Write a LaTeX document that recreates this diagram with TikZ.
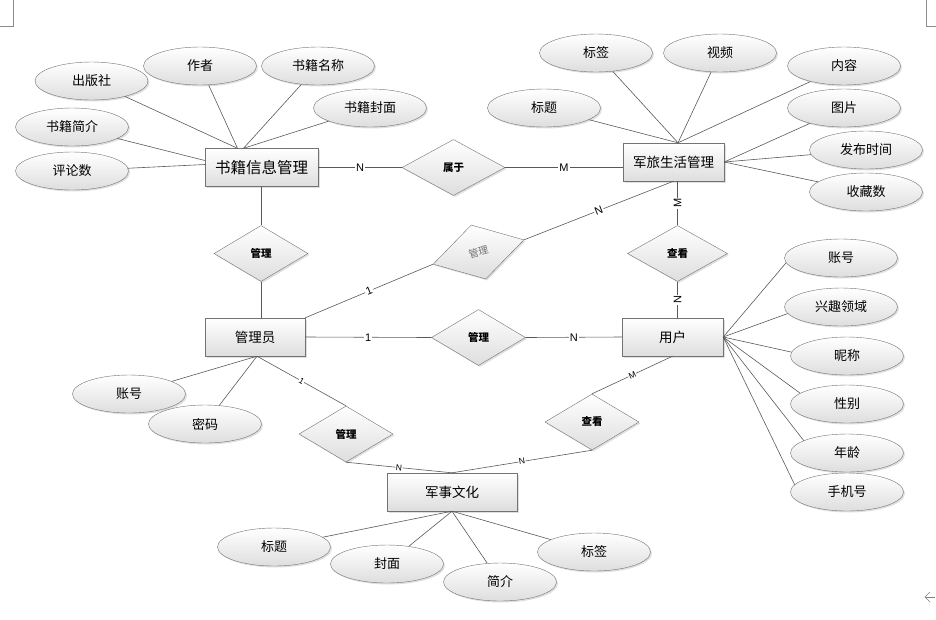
\documentclass[tikz,border=0pt]{standalone}
\usepackage{fontspec}
\setmainfont{Noto Sans CJK SC}
\newfontfamily\latin{Liberation Sans}
\usetikzlibrary{calc,shapes,shadows}

\begin{document}
\begin{tikzpicture}[x=1pt, y=-1pt, lbl/.style={inner sep=1pt, fill=white, font=\latin\fontsize{11}{11}\selectfont}, slbl/.style={lbl, sloped, inner sep=0.5pt, font=\latin\fontsize{8.5}{8.5}\selectfont}]
\useasboundingbox (0,0) rectangle (936,619);
\tikzstyle{base}=[draw=black!55, top color=white, bottom color=black!13, drop shadow={shadow xshift=1.5pt, shadow yshift=-1.5pt, opacity=0.25}]
\tikzstyle{ent}=[base, rectangle, minimum height=38pt, font=\fontsize{13.5}{13.5}\selectfont]
\tikzstyle{attr}=[base, ellipse, minimum width=113pt, minimum height=38pt, font=\fontsize{13}{13}\selectfont]
\tikzstyle{rel}=[base, diamond, minimum width=94pt, minimum height=56pt, inner sep=0pt, font=\bfseries\fontsize{10.5}{10.5}\selectfont]
\tikzstyle{cn}=[draw=black!65, line width=0.6pt]
% entities
\node[ent, minimum width=113pt, font=\fontsize{15.5}{15.5}\selectfont] (book) at (261.5,167.5) {书籍信息管理};
\node[ent, minimum width=101pt] (army) at (673.5,162) {军旅生活管理};
\node[ent, minimum width=100pt] (admin) at (255,337) {管理员};
\node[ent, minimum width=101pt] (user) at (672.5,337) {用户};
\node[ent, minimum width=130pt] (cult) at (452,492) {军事文化};
% relations
\node[rel, minimum width=103pt] (belong) at (453.5,167.5) {属于};
\node[rel] (mgrA) at (261,253.5) {管理};
\node[rel, rotate=15, text=black!55, font=\fontsize{10}{10}\selectfont] (mgrB) at (478.5,252) {管理};
\node[rel, minimum width=100pt] (chk1) at (677.5,253.5) {查看};
\node[rel] (mgrC) at (478.5,337.5) {管理};
\node[rel] (mgrD) at (346,434) {管理};
\node[rel] (chk2) at (592,422) {查看};
% attributes
\foreach \n/\x/\y/\t in {pub/91.5/81/出版社, auth/200/66/作者, bname/318/66/书籍名称, bcover/370/108/书籍封面, bintro/72/127/书籍简介, bcomm/72/171/评论数,
  atag/596/53/标签, avideo/720/53/视频, atitle/544/108/标题, acont/844/66/内容, apic/844/108/图片, atime/866/150/发布时间, afav/866/192/收藏数,
  uacc/841/258/账号, uint/841/307/兴趣领域, unick/847/356/昵称, usex/847/404/性别, uage/847/453/年龄, uphone/847/492/手机号,
  macc/129/394/账号, mpwd/205/424/密码, ctitle/274/547/标题, ccover/387/564/封面, cintro/500/582/简介, ctag/594/552/标签}
  {\node[attr] (\n) at (\x,\y) {\t};}
\foreach \i in {pub,auth} {\draw[cn] (\i) -- ([xshift=-24pt]book.north);}
\foreach \i in {bname,bcover} {\draw[cn] (\i) -- ([xshift=-18pt]book.north);}
\draw[cn] (bintro) -- ([yshift=7pt]book.west);
\draw[cn] (bcomm) -- ([yshift=3pt]book.west);
\foreach \i in {atitle,atag,avideo,acont} {\draw[cn] (\i) -- ([xshift=4.5pt]army.north);}
\foreach \i in {apic,atime,afav} {\draw[cn] (\i) -- (army.east);}
\foreach \i/\a in {uacc/185,uint/187,unick/176,usex/167,uage/164,uphone/172} {\draw[cn] (\i.\a) -- (user.east);}
\foreach \i in {macc,mpwd} {\draw[cn] (\i) -- ([xshift=2pt]admin.south);}
\foreach \i in {ctitle,ccover,cintro,ctag} {\draw[cn] (\i) -- (cult.south);}
% relation lines
\draw[cn] (book.east) -- node[lbl]{N} (belong.west);
\draw[cn] (belong.east) -- node[lbl]{M} (belong.east -| army.west);
\draw[cn] (mgrA.north) -- (mgrA.north |- book.south);
\draw[cn] (mgrA.south) -- (mgrA.south |- admin.north);
\draw[cn] (admin.north east) -- node[lbl, sloped]{1} (mgrB.west);
\draw[cn] (mgrB.east) -- node[lbl, sloped]{N} (army.south);
\draw[cn] (chk1.north) -- node[lbl, rotate=90]{M} (chk1.north |- army.south);
\draw[cn] (chk1.south) -- node[lbl, rotate=90]{N} (chk1.south |- user.north);
\draw[cn] (admin.east) -- node[lbl]{1} (mgrC.west);
\draw[cn] (mgrC.east) -- node[lbl]{N} (user.west);
\draw[cn] ([xshift=2pt]admin.south) -- node[slbl]{1} (mgrD.north);
\draw[cn] (mgrD.south) -- node[slbl]{N} (cult.north);
\draw[cn] (user.south) -- node[slbl]{M} (chk2.north);
\draw[cn] (chk2.south) -- node[slbl]{N} (cult.north);
% page marks
\draw[black!45] (13,0) -- (13,26) -- (0,26);
\draw[black!45] (926,0) -- (926,26) -- (936,26);
\draw[black!50] (935,597) -- (925,597);
\draw[black!50] (930,592) -- (925,597) -- (930,602);
\end{tikzpicture}
\end{document}
